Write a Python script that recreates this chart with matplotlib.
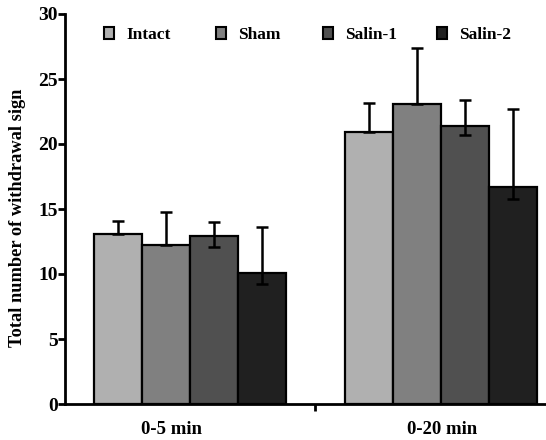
import matplotlib
matplotlib.use("Agg")
import matplotlib.pyplot as plt
import numpy as np

categories = ["0-5 min", "0-20 min"]
groups = ["Intact", "Sham", "Salin-1", "Salin-2"]
means = {
    "Intact":  [13.1, 20.9],
    "Sham":    [12.2, 23.1],
    "Salin-1": [12.9, 21.4],
    "Salin-2": [10.1, 16.7],
}
err_up = {
    "Intact":  [1.0, 2.25],
    "Sham":    [2.6, 4.3],
    "Salin-1": [1.1, 1.95],
    "Salin-2": [3.5, 6.0],
}
err_down = {
    "Intact":  [0.0, 0.0],
    "Sham":    [0.0, 0.0],
    "Salin-1": [0.8, 0.7],
    "Salin-2": [0.9, 0.9],
}
colors = ["#b0b0b0", "#808080", "#505050", "#202020"]

plt.rcParams['font.family'] = ['Liberation Serif', 'DejaVu Serif']
plt.rcParams['font.weight'] = 'bold'

W, H = 546, 440
fig = plt.figure(figsize=(W/100, H/100), dpi=100)
ax = fig.add_axes([65/W, 1-404/H, 1-65/W, (404-14)/H])

x = np.arange(len(categories))
w = 0.1916
handles = []
for i, g in enumerate(groups):
    pos = x + (i - 1.5) * w
    b = ax.bar(pos, means[g], width=w, color=colors[i], edgecolor='black',
               linewidth=1.6, zorder=2, label=g)
    ax.errorbar(pos, means[g], yerr=[err_down[g], err_up[g]], fmt='none',
                ecolor='black', elinewidth=1.8, capsize=4, capthick=1.8, zorder=3)
    handles.append(b)

ax.set_xlim(-0.499, 1.421)
ax.set_ylim(0, 30)
ax.set_yticks([0, 5, 10, 15, 20, 25, 30])
ax.set_xticks([0.5])
ax.set_xticklabels([])
label_offsets = [-0.072, 0.008]
for xi, c, off in zip(x, categories, label_offsets):
    ax.text(xi + off, -1.3, c, ha='center', va='top', fontsize=13.5, fontweight='bold')

for s in ['top', 'right']:
    ax.spines[s].set_visible(False)
for s in ['left', 'bottom']:
    ax.spines[s].set_linewidth(2)
ax.tick_params(axis='y', direction='out', length=5, width=2, labelsize=14, pad=0)
ax.tick_params(axis='x', direction='out', length=5, width=2)
for lab in ax.get_yticklabels():
    lab.set_fontweight('bold')

ax.set_ylabel("Total number of withdrawal sign", fontsize=13.2, fontweight='bold')
ax.yaxis.set_label_coords(-0.081, 0.477)

leg_x = [104, 216, 323, 437]
fs = 12.5
for h, g, lx in zip(handles, groups, leg_x):
    leg = fig.legend(handles=[h], labels=[g], frameon=False, loc='center left',
                     bbox_to_anchor=(lx/W, 1-35/H), borderpad=0, borderaxespad=0,
                     handlelength=0.6, handleheight=0.62, handletextpad=0.68,
                     prop={'weight': 'bold', 'size': fs})
    for lh in leg.legend_handles:
        lh.set_linewidth(1.5)

fig.savefig("out.png", dpi=100)
